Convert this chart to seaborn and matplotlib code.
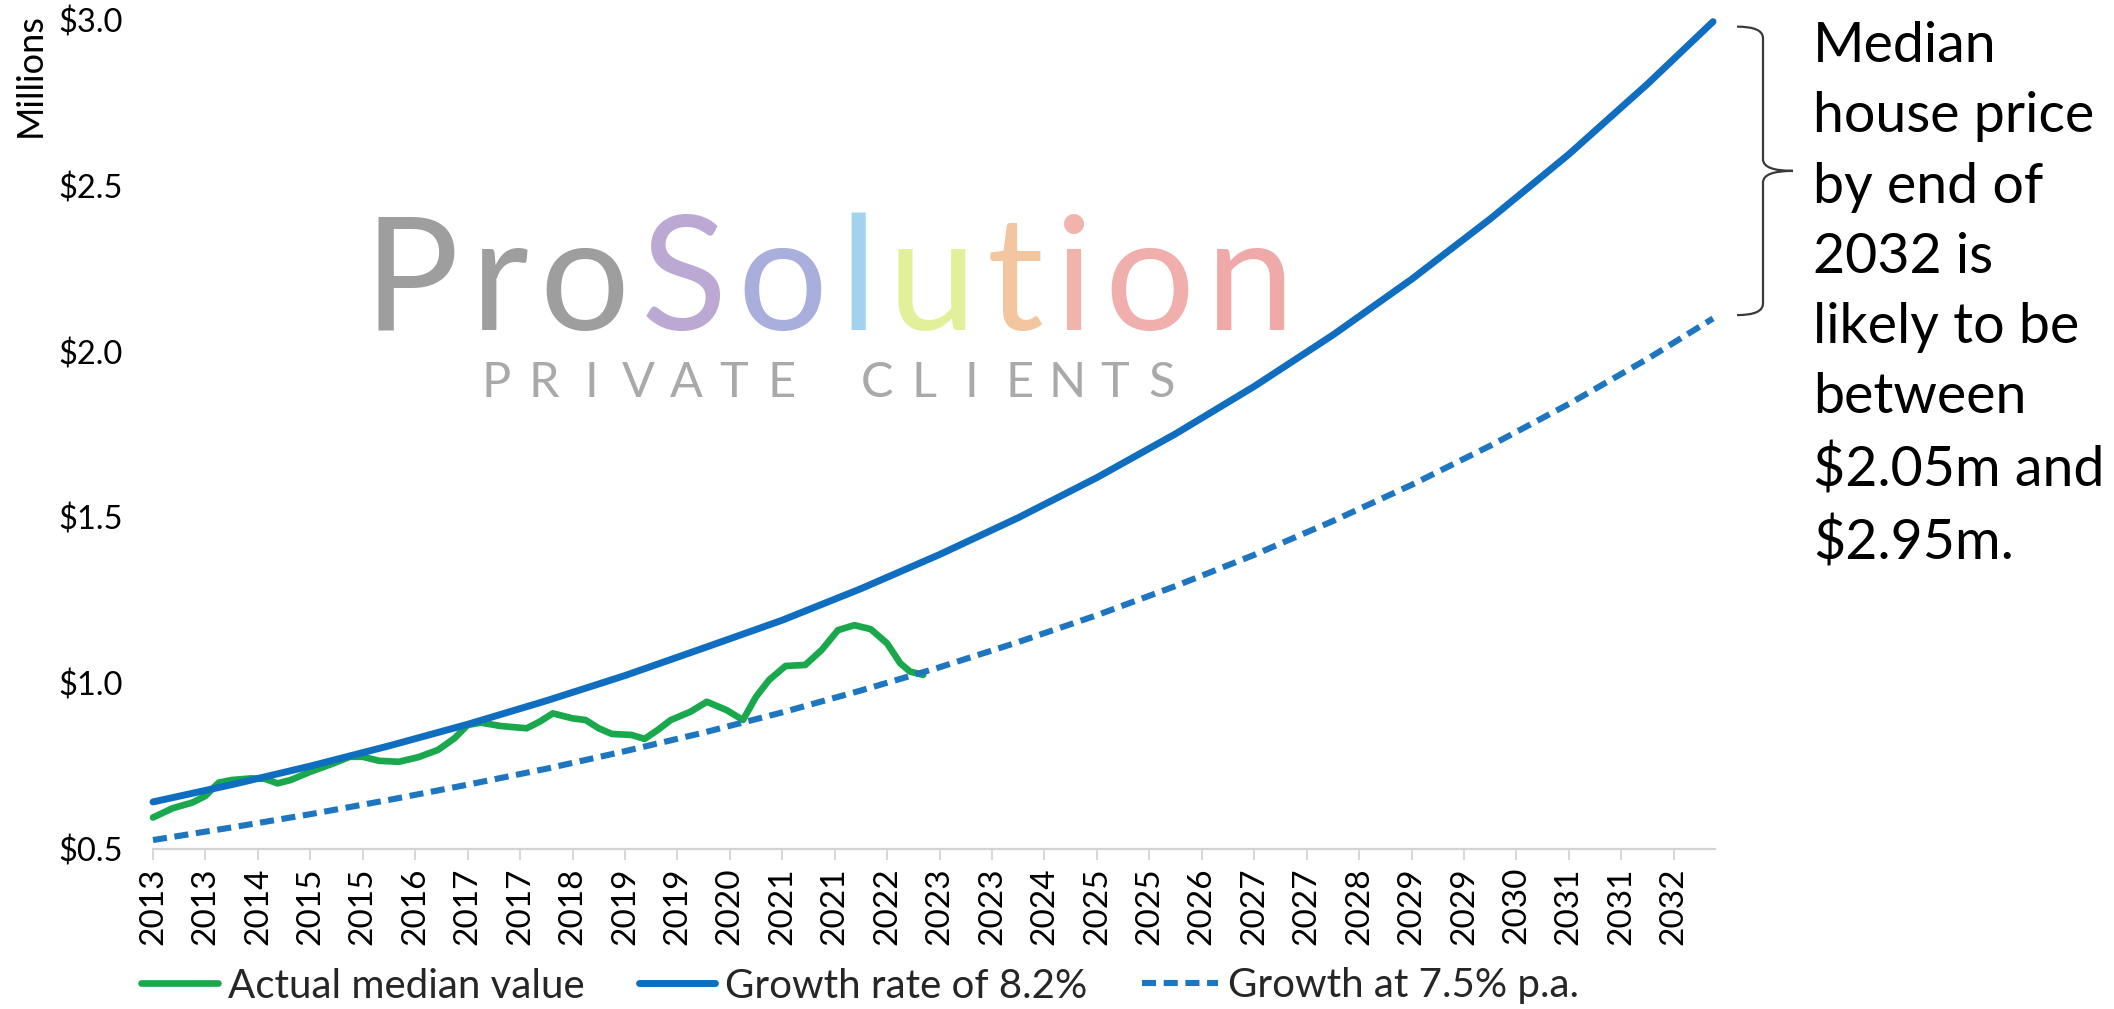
import matplotlib
matplotlib.use("Agg")
import matplotlib.pyplot as plt
import matplotlib.transforms as mtransforms
from matplotlib.path import Path
from matplotlib.patches import PathPatch
import numpy as np
import pandas as pd
import seaborn as sns

# ---------------- data (months since Jan 2013, values in $ millions) ----------------
proj_months = [0, 12, 24, 36, 48, 60, 72, 84, 96, 108, 120, 132, 144, 156, 168,
               180, 192, 204, 216, 228, 238]
growth_82 = [0.642, 0.694, 0.750, 0.811, 0.876, 0.947, 1.023, 1.106, 1.190, 1.285,
             1.388, 1.499, 1.620, 1.752, 1.895, 2.050, 2.218, 2.400, 2.595, 2.807, 2.995]
growth_75 = [0.527, 0.565, 0.605, 0.648, 0.694, 0.742, 0.795, 0.851, 0.912, 0.978,
             1.048, 1.124, 1.205, 1.293, 1.387, 1.489, 1.598, 1.716, 1.842, 1.978, 2.100]

actual_months = [0, 3, 6, 8, 10, 12, 15, 17, 19, 21, 24, 27.5, 30, 32, 34.5, 37.5,
                 40.5, 43.5, 46, 48, 50, 53, 57, 59, 61, 64, 66, 68, 70, 73, 75, 77,
                 79, 82, 84.5, 87.5, 90, 92, 94, 96.5, 99.5, 102, 104.5, 107, 109.5,
                 112, 114, 115.5, 117.5]
actual_values = [0.595, 0.623, 0.640, 0.660, 0.700, 0.708, 0.713, 0.712, 0.698, 0.708,
                 0.733, 0.758, 0.778, 0.778, 0.766, 0.763, 0.777, 0.799, 0.834, 0.874,
                 0.881, 0.871, 0.864, 0.884, 0.909, 0.894, 0.889, 0.864, 0.847, 0.844,
                 0.832, 0.859, 0.889, 0.914, 0.944, 0.919, 0.889, 0.959, 1.010, 1.052,
                 1.055, 1.100, 1.160, 1.175, 1.163, 1.120, 1.060, 1.035, 1.025]

x_tick_labels = ["2013", "2013", "2014", "2015", "2015", "2016", "2017", "2017", "2018",
                 "2019", "2019", "2020", "2021", "2021", "2022", "2023", "2023", "2024",
                 "2025", "2025", "2026", "2027", "2027", "2028", "2029", "2029", "2030",
                 "2031", "2031", "2032"]
y_ticks = [0.5, 1.0, 1.5, 2.0, 2.5, 3.0]
y_tick_labels = ["$0.5", "$1.0", "$1.5", "$2.0", "$2.5", "$3.0"]

series_labels = ["Actual median value", "Growth rate of 8.2%", "Growth at 7.5% p.a."]
annotation = "Median\nhouse price\nby end of\n2032 is\nlikely to be\nbetween\n$2.05m and\n$2.95m."
logo_text = "ProSolution"
logo_sub = "PRIVATE CLIENTS"

# ---------------- style ----------------
sns.set_theme(style="white")
plt.rcParams["font.family"] = ["Lato", "DejaVu Sans"]

GREEN = "#19a84b"
BLUE = "#0f6ebf"
BLUE_D = "#1f76c0"
W, H = 2114, 1009

fig = plt.figure(figsize=(W / 100, H / 100), dpi=100)
fig.patch.set_facecolor("white")
ax_l, ax_r, ax_t, ax_b = 153, 1715, 20, 849
ax = fig.add_axes([ax_l / W, 1 - ax_b / H, (ax_r - ax_l) / W, (ax_b - ax_t) / H])
ax.set_facecolor("none")

df_act = pd.DataFrame({"month": actual_months, "value": actual_values})
df_proj = pd.DataFrame({"month": proj_months, "g82": growth_82, "g75": growth_75})

sns.lineplot(data=df_act, x="month", y="value", ax=ax, color=GREEN, linewidth=4.8,
             label=series_labels[0], zorder=2)
sns.lineplot(data=df_proj, x="month", y="g82", ax=ax, color=BLUE, linewidth=5.0,
             label=series_labels[1], zorder=3)
sns.lineplot(data=df_proj, x="month", y="g75", ax=ax, color=BLUE_D, linewidth=4.4,
             label=series_labels[2], zorder=4)

for ln in ax.lines:
    ln.set_clip_on(False)
    ln.set_solid_capstyle("round")
    ln.set_solid_joinstyle("round")
ax.lines[2].set_dashes([2.3, 1.25])
ax.lines[2].set_dash_capstyle("butt")

ax.set_xlim(0, 238.3)
ax.set_ylim(0.5, 3.0)
ax.set_xticks([8 * i for i in range(len(x_tick_labels))])
ax.set_xticklabels(x_tick_labels, rotation=90)
ax.set_yticks(y_ticks)
ax.set_yticklabels(y_tick_labels)
ax.set_xlabel("")
ax.set_ylabel("")

# y-axis title, rotated, aligned to the top of the axis
fig.text(30 / W, 1 - 13 / H, "Millions", fontsize=26, rotation=90, ha="center",
         va="top", color="black")

for s in ["top", "right", "left"]:
    ax.spines[s].set_visible(False)
ax.spines["bottom"].set_color("#d3d3d3")
ax.spines["bottom"].set_linewidth(1.6)
ax.tick_params(axis="x", length=8, width=1.3, color="#d3d3d3", pad=5,
               labelsize=24, labelcolor="black", bottom=True)
ax.tick_params(axis="y", length=0, pad=22, labelsize=23.5, labelcolor="black")
ax.grid(False)

handles, labels = ax.get_legend_handles_labels()
if ax.get_legend() is not None:
    ax.get_legend().remove()
fig.legend(handles, labels, loc="center left", bbox_to_anchor=(141 / W, 1 - 986 / H),
           ncol=3, frameon=False, fontsize=29, handlelength=1.9, handletextpad=0.25,
           columnspacing=1.35, borderpad=0, borderaxespad=0)

# annotation text + brace
fig.text(1813 / W, 1 - 21 / H, annotation, fontsize=40, va="top", ha="left",
         linespacing=1.47, color="black")
trans = mtransforms.blended_transform_factory(ax.transAxes, ax.transData)
xa = (1737 - ax_l) / (ax_r - ax_l)
xv = (1763 - ax_l) / (ax_r - ax_l)
xt = (1793 - ax_l) / (ax_r - ax_l)
top, bot = 2.98, 2.11
mid = (top + bot) / 2
r = 0.035
verts = [(xa, top), (xv, top), (xv, top - r), (xv, mid + r), (xv, mid), (xt, mid),
         (xv, mid), (xv, mid - r), (xv, bot + r), (xv, bot), (xa, bot)]
codes = [Path.MOVETO, Path.CURVE3, Path.CURVE3, Path.LINETO, Path.CURVE3, Path.CURVE3,
         Path.CURVE3, Path.CURVE3, Path.LINETO, Path.CURVE3, Path.CURVE3]
brace = PathPatch(Path(verts, codes), transform=trans, fill=False, ec="#3a3a3a",
                  lw=1.6, clip_on=False)
ax.add_patch(brace)

# watermark logo (text)
renderer = fig.canvas.get_renderer()
logo_colors = ["#9e9e9e", "#9e9e9e", "#9e9e9e", "#bba8d3", "#a8afdc", "#a2d2f0",
               "#e2f199", "#f3c6a0", "#f1b3ab", "#f0afac", "#eea9a8"]
fs0 = 100
widths = []
for ch in logo_text:
    t = fig.text(0, 0, ch, fontsize=fs0, fontweight="normal")
    widths.append(t.get_window_extent(renderer).width)
    t.remove()
gap0 = 0.07 * fs0 * 100 / 72
x0, x1 = 364, 1294
k = (x1 - x0) / (sum(widths) + gap0 * (len(logo_text) - 1))
x = x0
for ch, w, c in zip(logo_text, widths, logo_colors):
    ax.text(x / W, 1 - 330 / H, ch, transform=fig.transFigure, fontsize=fs0 * k,
            fontweight="normal", color=c, ha="left", va="baseline", zorder=0.5,
            clip_on=False)
    x += (w + gap0) * k

c_first, c_last = 496, 1162
n = len(logo_sub)
for i, ch in enumerate(logo_sub):
    if ch == " ":
        continue
    cx = c_first + (c_last - c_first) * i / (n - 1)
    ax.text(cx / W, 1 - 397 / H, ch, transform=fig.transFigure, fontsize=35,
            fontweight="normal", color="#a9a9a9", ha="center", va="baseline",
            zorder=0.5, clip_on=False)

fig.savefig("out.png", dpi=100)
